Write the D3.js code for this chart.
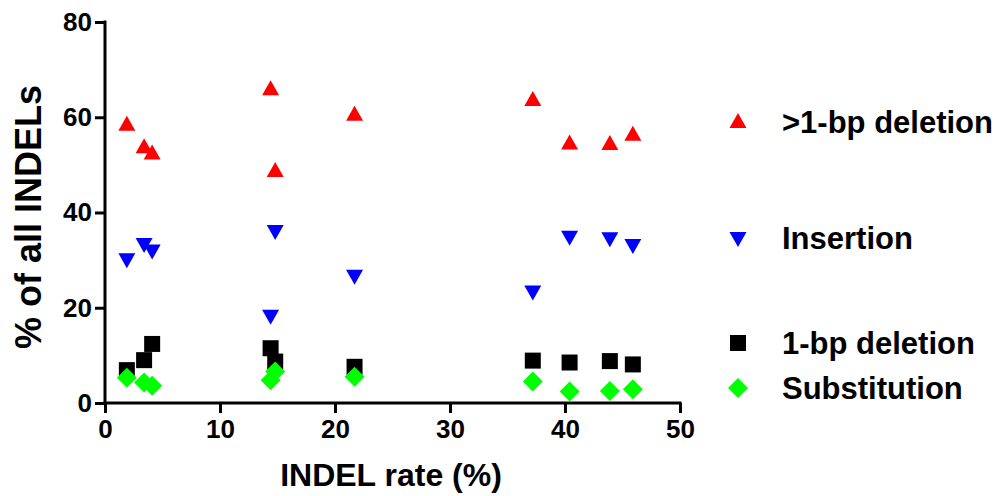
<!DOCTYPE html>
<html lang="en">
<head>
<meta charset="utf-8">
<title>INDEL types vs INDEL rate</title>
<script src="https://d3js.org/d3.v7.min.js"></script>
<style>
  body { margin: 0; background: #fff; }
  text { font-family: "Liberation Sans", Arial, sans-serif; font-weight: bold; }
</style>
</head>
<body>
<script>
// INDEL rate (%) of each sample
var rates = [1.9, 3.4, 4.1, 14.4, 14.8, 21.7, 37.2, 40.4, 43.9, 45.9];

// % of all INDELs per type
var bigDel   = [58.4, 53.7, 52.4, 65.9, 48.7, 60.5, 63.6, 54.5, 54.4, 56.3];
var insert   = [30.2, 33.4, 32.0, 18.3, 36.1, 26.7, 23.4, 34.9, 34.6, 33.2];
var oneDel   = [6.9, 9.0, 12.4, 11.5, 8.7, 7.6, 8.9, 8.5, 8.8, 8.1];
var subst    = [5.3, 4.3, 3.6, 4.8, 6.6, 5.5, 4.5, 2.4, 2.5, 2.9];

var xTicks = [0, 10, 20, 30, 40, 50];
var yTicks = [0, 20, 40, 60, 80];

var series = [
  { name: ">1-bp deletion", values: bigDel, color: "#ff0000", shape: "up",      ly: 122 },
  { name: "Insertion",      values: insert, color: "#0000ff", shape: "down",    ly: 238 },
  { name: "1-bp deletion",  values: oneDel, color: "#000000", shape: "square",  ly: 343 },
  { name: "Substitution",   values: subst,  color: "#00ff00", shape: "diamond", ly: 388 }
];

var w = 998, h = 496;

var svg = d3.select("body").append("svg")
    .attr("width", w)
    .attr("height", h);

var x = d3.scaleLinear().domain([0, 50]).range([105, 680]);
var y = d3.scaleLinear().domain([0, 80]).range([403, 22]);

// marker path around 0,0
function marker(shape) {
  if (shape == "up")     return "M0,-9L8.5,6L-8.5,6Z";
  if (shape == "down")   return "M0,9L8.5,-6L-8.5,-6Z";
  if (shape == "square") return "M-8,-8H8V8H-8Z";
  return "M0,-10L10,0L0,10L-10,0Z";
}

// axes
var xAxis = svg.append("g")
    .attr("transform", "translate(0," + y(0) + ")")
    .call(d3.axisBottom(x).tickValues(xTicks).tickSize(10).tickPadding(7).tickSizeOuter(0));
var yAxis = svg.append("g")
    .attr("transform", "translate(" + x(0) + ",0)")
    .call(d3.axisLeft(y).tickValues(yTicks).tickSize(10).tickPadding(3).tickSizeOuter(0));

svg.selectAll(".domain, .tick line")
    .attr("stroke", "#000")
    .attr("stroke-width", 3);
xAxis.select(".domain").attr("d", "M" + (x(0) - 1.5) + ",0H" + (x(50) + 1.5));
yAxis.select(".domain").attr("d", "M0," + (y(80) - 1.5) + "V" + (y(0) + 1.5));
svg.selectAll(".tick text")
    .attr("fill", "#000")
    .style("font-size", "26px")
    .style("font-family", "'Liberation Sans', Arial, sans-serif")
    .style("font-weight", "bold");

// points
series.forEach(function (s) {
  svg.append("g").selectAll("path")
    .data(s.values)
    .enter()
    .append("path")
    .attr("d", marker(s.shape))
    .attr("fill", s.color)
    .attr("transform", function (d, i) { return "translate(" + x(rates[i]) + "," + y(d) + ")"; });
});

// legend
series.forEach(function (s) {
  svg.append("path")
    .attr("d", marker(s.shape))
    .attr("fill", s.color)
    .attr("transform", "translate(738," + s.ly + ")");
  svg.append("text")
    .attr("x", 782)
    .attr("y", s.ly + 11)
    .style("font-size", "31px")
    .text(s.name);
});

// axis titles
svg.append("text")
    .attr("x", 391)
    .attr("y", 486)
    .attr("text-anchor", "middle")
    .style("font-size", "32px")
    .text("INDEL rate (%)");

svg.append("text")
    .attr("transform", "translate(41,217) rotate(-90)")
    .attr("text-anchor", "middle")
    .style("font-size", "36px")
    .text("% of all INDELs");
</script>
</body>
</html>
